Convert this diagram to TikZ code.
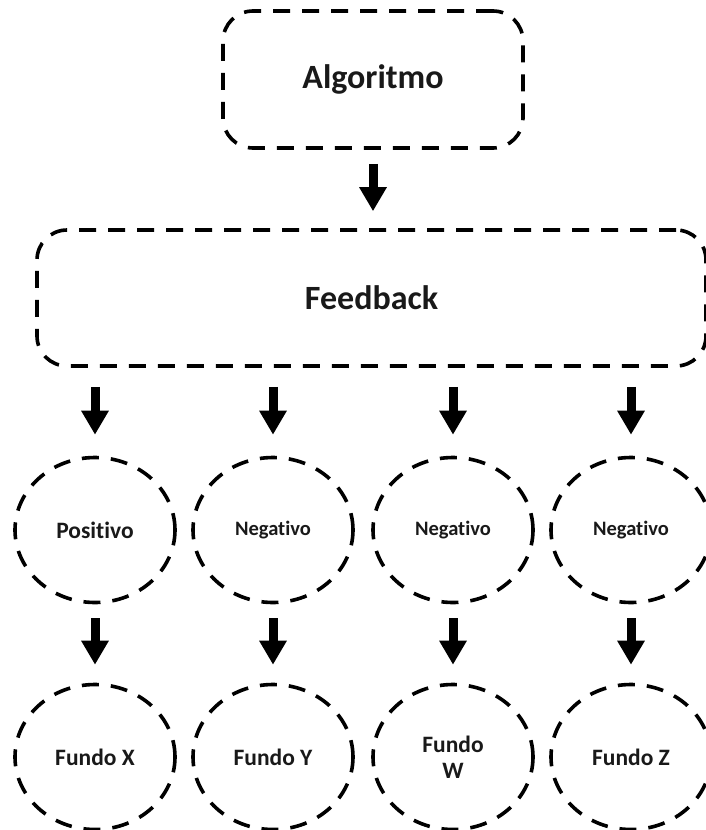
\documentclass[tikz,border=0pt]{standalone}
\usepackage{fontspec}
\setmainfont{Carlito}[Ligatures=NoCommon]
\usetikzlibrary{shapes.geometric,arrows.meta}
\begin{document}
\begin{tikzpicture}[x=1pt,y=-1pt,
  dsh/.style={draw=black,line width=3.6pt,dash pattern=on 17pt off 12pt},
  rbox/.style={dsh,rounded corners=30pt,inner sep=0pt,font=\fontsize{34}{40}\selectfont\bfseries,text=black!90},
  oval/.style={dsh,ellipse,minimum width=160pt,minimum height=145pt,inner sep=0pt,text=black!90,align=center},
  lblA/.style={font=\fontsize{23.5}{26}\selectfont\bfseries},
  lblB/.style={font=\fontsize{20.5}{26}\selectfont\bfseries},
  bigarrow/.style={line width=9pt,-{Triangle[width=26pt,length=24pt]}}
]
\useasboundingbox (0,0) rectangle (705,830);
\node[rbox,minimum width=300pt,minimum height=137pt] (alg) at (373,79.5) {Algoritmo};
\node[rbox,minimum width=669pt,minimum height=136pt] (fb) at (371.5,298) {Feedback};
\node[oval,lblA] (p1) at (95,530) {Positivo};
\node[oval,lblB] (n1) at (273,530) {Negativo};
\node[oval,lblB] (n2) at (453,530) {Negativo};
\node[oval,lblB] (n3) at (631,530) {Negativo};
\node[oval,lblA] (f1) at (95,757) {Fundo X};
\node[oval,lblA] (f2) at (273,757) {Fundo Y};
\node[oval,lblA] (f3) at (453,757) {Fundo\\W};
\node[oval,lblA] (f4) at (631,757) {Fundo Z};
\draw[bigarrow,shorten <=14pt,shorten >=17pt] (alg.south) -- (alg.south |- fb.north);
\foreach \c/\d in {p1/f1,n1/f2,n2/f3,n3/f4}{
  \draw[bigarrow,shorten <=19pt,shorten >=21pt] (\c.north |- fb.south) -- (\c.north);
  \draw[bigarrow,shorten <=14pt,shorten >=18pt] (\c.south) -- (\d.north);
}
\end{tikzpicture}
\end{document}
